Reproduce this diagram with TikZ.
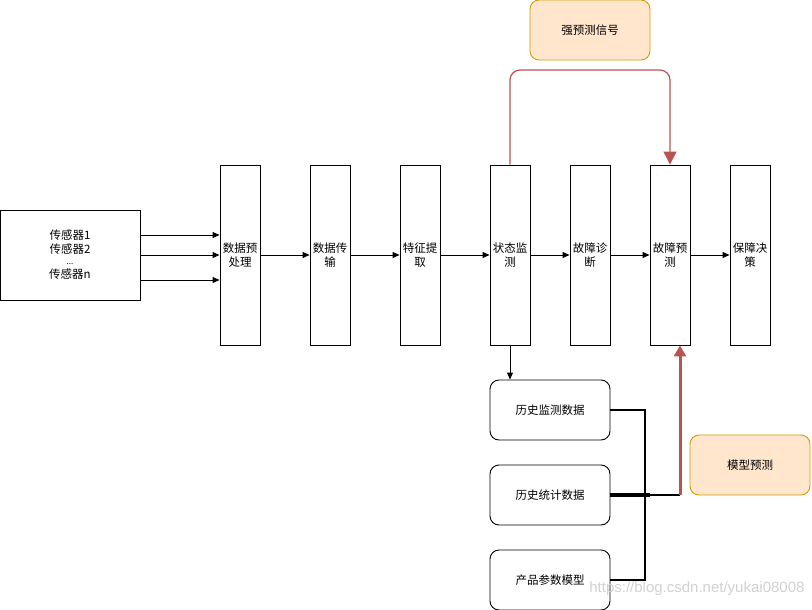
\documentclass[tikz,border=0pt]{standalone}
\usepackage{fontspec}
\setmainfont{Noto Sans CJK SC}
\newfontfamily\wmfont{Liberation Sans}
\usetikzlibrary{arrows.meta}
\definecolor{orfill}{HTML}{FFE6CC}
\definecolor{ordraw}{HTML}{D79B00}
\definecolor{redln}{HTML}{B85450}
\begin{document}
\begin{tikzpicture}[x=1pt,y=-1pt,
  every node/.style={font=\fontsize{11.5}{14}\selectfont},
  tallbox/.style={draw,line width=0.9pt,minimum width=40pt,minimum height=180pt,inner sep=0pt,align=center,text width=38pt},
  roundbox/.style={draw,line width=0.9pt,rounded corners=9pt,minimum width=120pt,minimum height=60pt,inner sep=0pt,align=center},
  orbox/.style={draw=ordraw,fill=orfill,line width=0.9pt,rounded corners=9pt,minimum width=120pt,minimum height=60pt,inner sep=0pt,align=center},
  arr/.style={-{Triangle[length=7pt,width=6pt]},line width=0.9pt},
  redarr/.style={-{Triangle[length=13pt,width=13pt,fill=redln]},draw=redln}
]
\useasboundingbox (0,0) rectangle (812,610);
\node[draw,line width=0.9pt,minimum width=140pt,minimum height=90pt,inner sep=0pt,align=center] (sens) at (70,255) {传感器1\\传感器2\\[-3pt]{\fontsize{8}{9}\selectfont ...}\\传感器n};
\node[tallbox] (pre) at (240,255) {数据预\\处理};
\node[tallbox] (tx) at (330,255) {数据传\\输};
\node[tallbox] (fe) at (420,255) {特征提\\取};
\node[tallbox] (mon) at (510,255) {状态监\\测};
\node[tallbox] (diag) at (590,255) {故障诊\\断};
\node[tallbox] (prog) at (670,255) {故障预\\测};
\node[tallbox] (dec) at (750,255) {保障决\\策};
\node[orbox] (sig) at (590,30) {强预测信号};
\node[orbox] (model) at (750,465) {模型预测};
\node[roundbox] (h1) at (550,410) {历史监测数据};
\node[roundbox] (h2) at (550,495) {历史统计数据};
\node[roundbox] (h3) at (550,580) {产品参数模型};
% sensor arrows
\draw[arr] (sens.east |- 0,235) -- (pre.west |- 0,235);
\draw[arr] (sens.east |- 0,255) -- (pre.west |- 0,255);
\draw[arr] (sens.east |- 0,280) -- (pre.west |- 0,280);
% chain
\draw[arr] (pre) -- (tx);
\draw[arr] (tx) -- (fe);
\draw[arr] (fe) -- (mon);
\draw[arr] (mon) -- (diag);
\draw[arr] (diag) -- (prog);
\draw[arr] (prog) -- (dec);
% red strong signal
\draw[redarr,line width=1.2pt,rounded corners=10pt] (mon.north) -- (510,70) -- (670,70) -- (prog.north);
% monitor to history
\draw[arr] (mon.south) -- (mon.south |- h1.north);
% history connectors
\coordinate (k) at (680,495);
\draw[line width=1.8pt] (h1.east) -- (645,410) -- (645,580) -- (h3.east);
\draw[line width=3.5pt] (h2.east) -- (650,495);
\draw[line width=1.6pt] (650,495) -- (k);
\draw[-{Triangle[length=11pt,width=12pt,fill=redln]},draw=redln,line width=3pt] (k) -- (prog.south -| k);
% watermark
\node[font=\wmfont\fontsize{15}{16}\selectfont,text=black!18,anchor=east] (wm) at (808,589) {https://blog.csdn.net/yukai08008};
\end{tikzpicture}
\end{document}
